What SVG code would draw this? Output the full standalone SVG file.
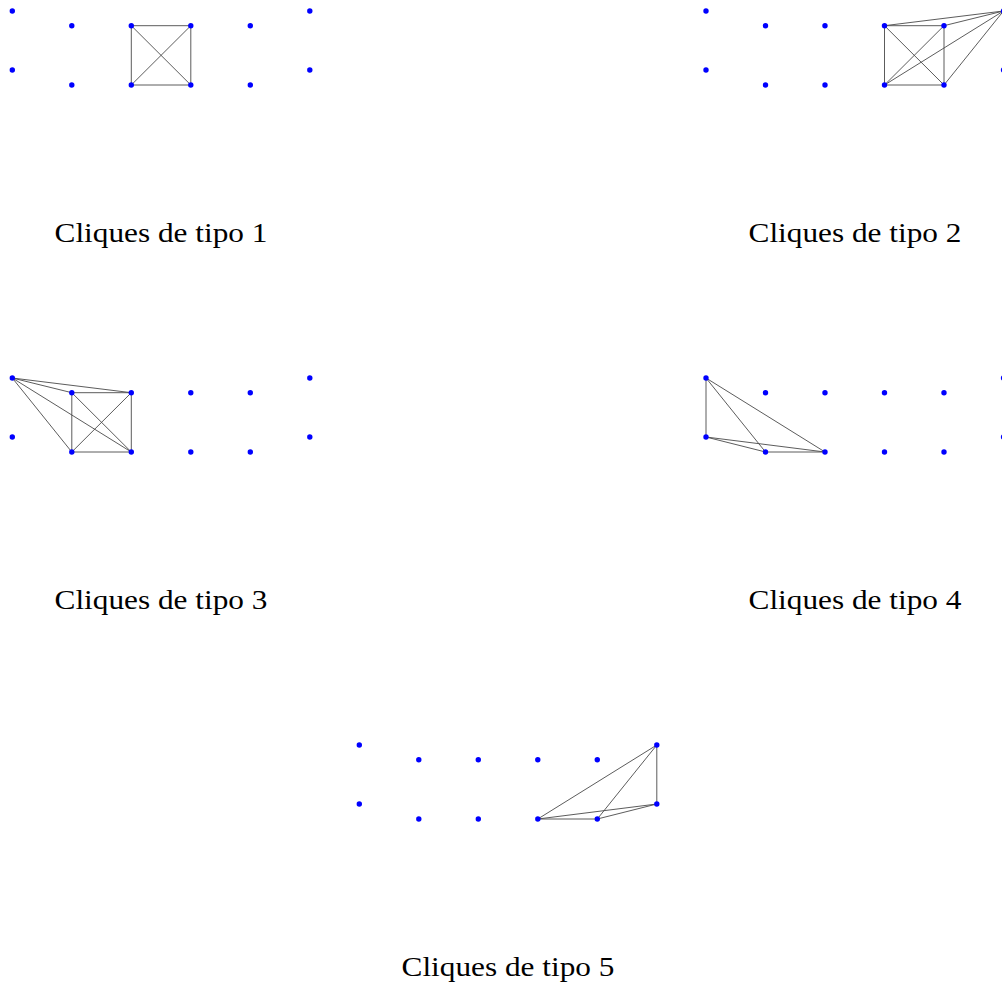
<svg xmlns="http://www.w3.org/2000/svg" width="1002" height="988" viewBox="0 0 1002 988">
<style>
.e{stroke:#4a4a4a;stroke-width:0.9;fill:none}
.n{fill:#0000ff}
.lbl{font-family:"Liberation Serif","DejaVu Serif",serif;font-size:26.5px;fill:#000;text-anchor:middle}
</style>
<rect width="1002" height="988" fill="#fff"/>
<g id="connectors" class="e">
<!-- panel 1 -->
<line x1="131.3" y1="25.7" x2="190.8" y2="25.7"/>
<line x1="131.3" y1="85" x2="190.8" y2="85"/>
<line x1="131.3" y1="25.7" x2="131.3" y2="85"/>
<line x1="190.8" y1="25.7" x2="190.8" y2="85"/>
<line x1="131.3" y1="25.7" x2="190.8" y2="85"/>
<line x1="190.8" y1="25.7" x2="131.3" y2="85"/>
<!-- panel 2 -->
<line x1="884.5" y1="25.7" x2="944" y2="25.7"/>
<line x1="884.5" y1="85" x2="944" y2="85"/>
<line x1="884.5" y1="25.7" x2="884.5" y2="85"/>
<line x1="944" y1="25.7" x2="944" y2="85"/>
<line x1="884.5" y1="25.7" x2="944" y2="85"/>
<line x1="944" y1="25.7" x2="884.5" y2="85"/>
<line x1="1003.5" y1="11" x2="884.5" y2="25.7"/>
<line x1="1003.5" y1="11" x2="944" y2="25.7"/>
<line x1="1003.5" y1="11" x2="884.5" y2="85"/>
<line x1="1003.5" y1="11" x2="944" y2="85"/>
<!-- panel 3 -->
<line x1="71.8" y1="392.7" x2="131.3" y2="392.7"/>
<line x1="71.8" y1="452" x2="131.3" y2="452"/>
<line x1="71.8" y1="392.7" x2="71.8" y2="452"/>
<line x1="131.3" y1="392.7" x2="131.3" y2="452"/>
<line x1="71.8" y1="392.7" x2="131.3" y2="452"/>
<line x1="131.3" y1="392.7" x2="71.8" y2="452"/>
<line x1="12.3" y1="378" x2="71.8" y2="392.7"/>
<line x1="12.3" y1="378" x2="131.3" y2="392.7"/>
<line x1="12.3" y1="378" x2="71.8" y2="452"/>
<line x1="12.3" y1="378" x2="131.3" y2="452"/>
<!-- panel 4 -->
<line x1="706" y1="378" x2="706" y2="437"/>
<line x1="706" y1="378" x2="765.5" y2="452"/>
<line x1="706" y1="378" x2="825" y2="452"/>
<line x1="706" y1="437" x2="765.5" y2="452"/>
<line x1="706" y1="437" x2="825" y2="452"/>
<line x1="765.5" y1="452" x2="825" y2="452"/>
<!-- panel 5 -->
<line x1="656.8" y1="745" x2="656.8" y2="804"/>
<line x1="656.8" y1="745" x2="537.8" y2="819"/>
<line x1="656.8" y1="745" x2="597.3" y2="819"/>
<line x1="537.8" y1="819" x2="597.3" y2="819"/>
<line x1="537.8" y1="819" x2="656.8" y2="804"/>
<line x1="597.3" y1="819" x2="656.8" y2="804"/>
</g>
<g id="panel1">
<g id="p1t0"><circle class="n" cx="12.3" cy="11" r="2.7"/></g>
<g id="p1t1"><circle class="n" cx="71.8" cy="25.7" r="2.7"/></g>
<g id="p1t2"><circle class="n" cx="131.3" cy="25.7" r="2.7"/></g>
<g id="p1t3"><circle class="n" cx="190.8" cy="25.7" r="2.7"/></g>
<g id="p1t4"><circle class="n" cx="250.3" cy="25.7" r="2.7"/></g>
<g id="p1t5"><circle class="n" cx="309.8" cy="11" r="2.7"/></g>
<g id="p1b0"><circle class="n" cx="12.3" cy="70" r="2.7"/></g>
<g id="p1b1"><circle class="n" cx="71.8" cy="85" r="2.7"/></g>
<g id="p1b2"><circle class="n" cx="131.3" cy="85" r="2.7"/></g>
<g id="p1b3"><circle class="n" cx="190.8" cy="85" r="2.7"/></g>
<g id="p1b4"><circle class="n" cx="250.3" cy="85" r="2.7"/></g>
<g id="p1b5"><circle class="n" cx="309.8" cy="70" r="2.7"/></g>
<text class="lbl" x="161" y="241.5" textLength="213" lengthAdjust="spacingAndGlyphs">Cliques de tipo 1</text>
</g>
<g id="panel2">
<g id="p2t0"><circle class="n" cx="706" cy="11" r="2.7"/></g>
<g id="p2t1"><circle class="n" cx="765.5" cy="25.7" r="2.7"/></g>
<g id="p2t2"><circle class="n" cx="825" cy="25.7" r="2.7"/></g>
<g id="p2t3"><circle class="n" cx="884.5" cy="25.7" r="2.7"/></g>
<g id="p2t4"><circle class="n" cx="944" cy="25.7" r="2.7"/></g>
<g id="p2t5"><circle class="n" cx="1003.5" cy="11" r="2.7"/></g>
<g id="p2b0"><circle class="n" cx="706" cy="70" r="2.7"/></g>
<g id="p2b1"><circle class="n" cx="765.5" cy="85" r="2.7"/></g>
<g id="p2b2"><circle class="n" cx="825" cy="85" r="2.7"/></g>
<g id="p2b3"><circle class="n" cx="884.5" cy="85" r="2.7"/></g>
<g id="p2b4"><circle class="n" cx="944" cy="85" r="2.7"/></g>
<g id="p2b5"><circle class="n" cx="1003.5" cy="70" r="2.7"/></g>
<text class="lbl" x="855" y="241.5" textLength="213" lengthAdjust="spacingAndGlyphs">Cliques de tipo 2</text>
</g>
<g id="panel3">
<g id="p3t0"><circle class="n" cx="12.3" cy="378" r="2.7"/></g>
<g id="p3t1"><circle class="n" cx="71.8" cy="392.7" r="2.7"/></g>
<g id="p3t2"><circle class="n" cx="131.3" cy="392.7" r="2.7"/></g>
<g id="p3t3"><circle class="n" cx="190.8" cy="392.7" r="2.7"/></g>
<g id="p3t4"><circle class="n" cx="250.3" cy="392.7" r="2.7"/></g>
<g id="p3t5"><circle class="n" cx="309.8" cy="378" r="2.7"/></g>
<g id="p3b0"><circle class="n" cx="12.3" cy="437" r="2.7"/></g>
<g id="p3b1"><circle class="n" cx="71.8" cy="452" r="2.7"/></g>
<g id="p3b2"><circle class="n" cx="131.3" cy="452" r="2.7"/></g>
<g id="p3b3"><circle class="n" cx="190.8" cy="452" r="2.7"/></g>
<g id="p3b4"><circle class="n" cx="250.3" cy="452" r="2.7"/></g>
<g id="p3b5"><circle class="n" cx="309.8" cy="437" r="2.7"/></g>
<text class="lbl" x="161" y="608.5" textLength="213" lengthAdjust="spacingAndGlyphs">Cliques de tipo 3</text>
</g>
<g id="panel4">
<g id="p4t0"><circle class="n" cx="706" cy="378" r="2.7"/></g>
<g id="p4t1"><circle class="n" cx="765.5" cy="392.7" r="2.7"/></g>
<g id="p4t2"><circle class="n" cx="825" cy="392.7" r="2.7"/></g>
<g id="p4t3"><circle class="n" cx="884.5" cy="392.7" r="2.7"/></g>
<g id="p4t4"><circle class="n" cx="944" cy="392.7" r="2.7"/></g>
<g id="p4t5"><circle class="n" cx="1003.5" cy="378" r="2.7"/></g>
<g id="p4b0"><circle class="n" cx="706" cy="437" r="2.7"/></g>
<g id="p4b1"><circle class="n" cx="765.5" cy="452" r="2.7"/></g>
<g id="p4b2"><circle class="n" cx="825" cy="452" r="2.7"/></g>
<g id="p4b3"><circle class="n" cx="884.5" cy="452" r="2.7"/></g>
<g id="p4b4"><circle class="n" cx="944" cy="452" r="2.7"/></g>
<g id="p4b5"><circle class="n" cx="1003.5" cy="437" r="2.7"/></g>
<text class="lbl" x="855" y="608.5" textLength="213" lengthAdjust="spacingAndGlyphs">Cliques de tipo 4</text>
</g>
<g id="panel5">
<g id="p5t0"><circle class="n" cx="359.3" cy="745" r="2.7"/></g>
<g id="p5t1"><circle class="n" cx="418.8" cy="759.7" r="2.7"/></g>
<g id="p5t2"><circle class="n" cx="478.3" cy="759.7" r="2.7"/></g>
<g id="p5t3"><circle class="n" cx="537.8" cy="759.7" r="2.7"/></g>
<g id="p5t4"><circle class="n" cx="597.3" cy="759.7" r="2.7"/></g>
<g id="p5t5"><circle class="n" cx="656.8" cy="745" r="2.7"/></g>
<g id="p5b0"><circle class="n" cx="359.3" cy="804" r="2.7"/></g>
<g id="p5b1"><circle class="n" cx="418.8" cy="819" r="2.7"/></g>
<g id="p5b2"><circle class="n" cx="478.3" cy="819" r="2.7"/></g>
<g id="p5b3"><circle class="n" cx="537.8" cy="819" r="2.7"/></g>
<g id="p5b4"><circle class="n" cx="597.3" cy="819" r="2.7"/></g>
<g id="p5b5"><circle class="n" cx="656.8" cy="804" r="2.7"/></g>
<text class="lbl" x="508" y="975.5" textLength="213" lengthAdjust="spacingAndGlyphs">Cliques de tipo 5</text>
</g>
</svg>
